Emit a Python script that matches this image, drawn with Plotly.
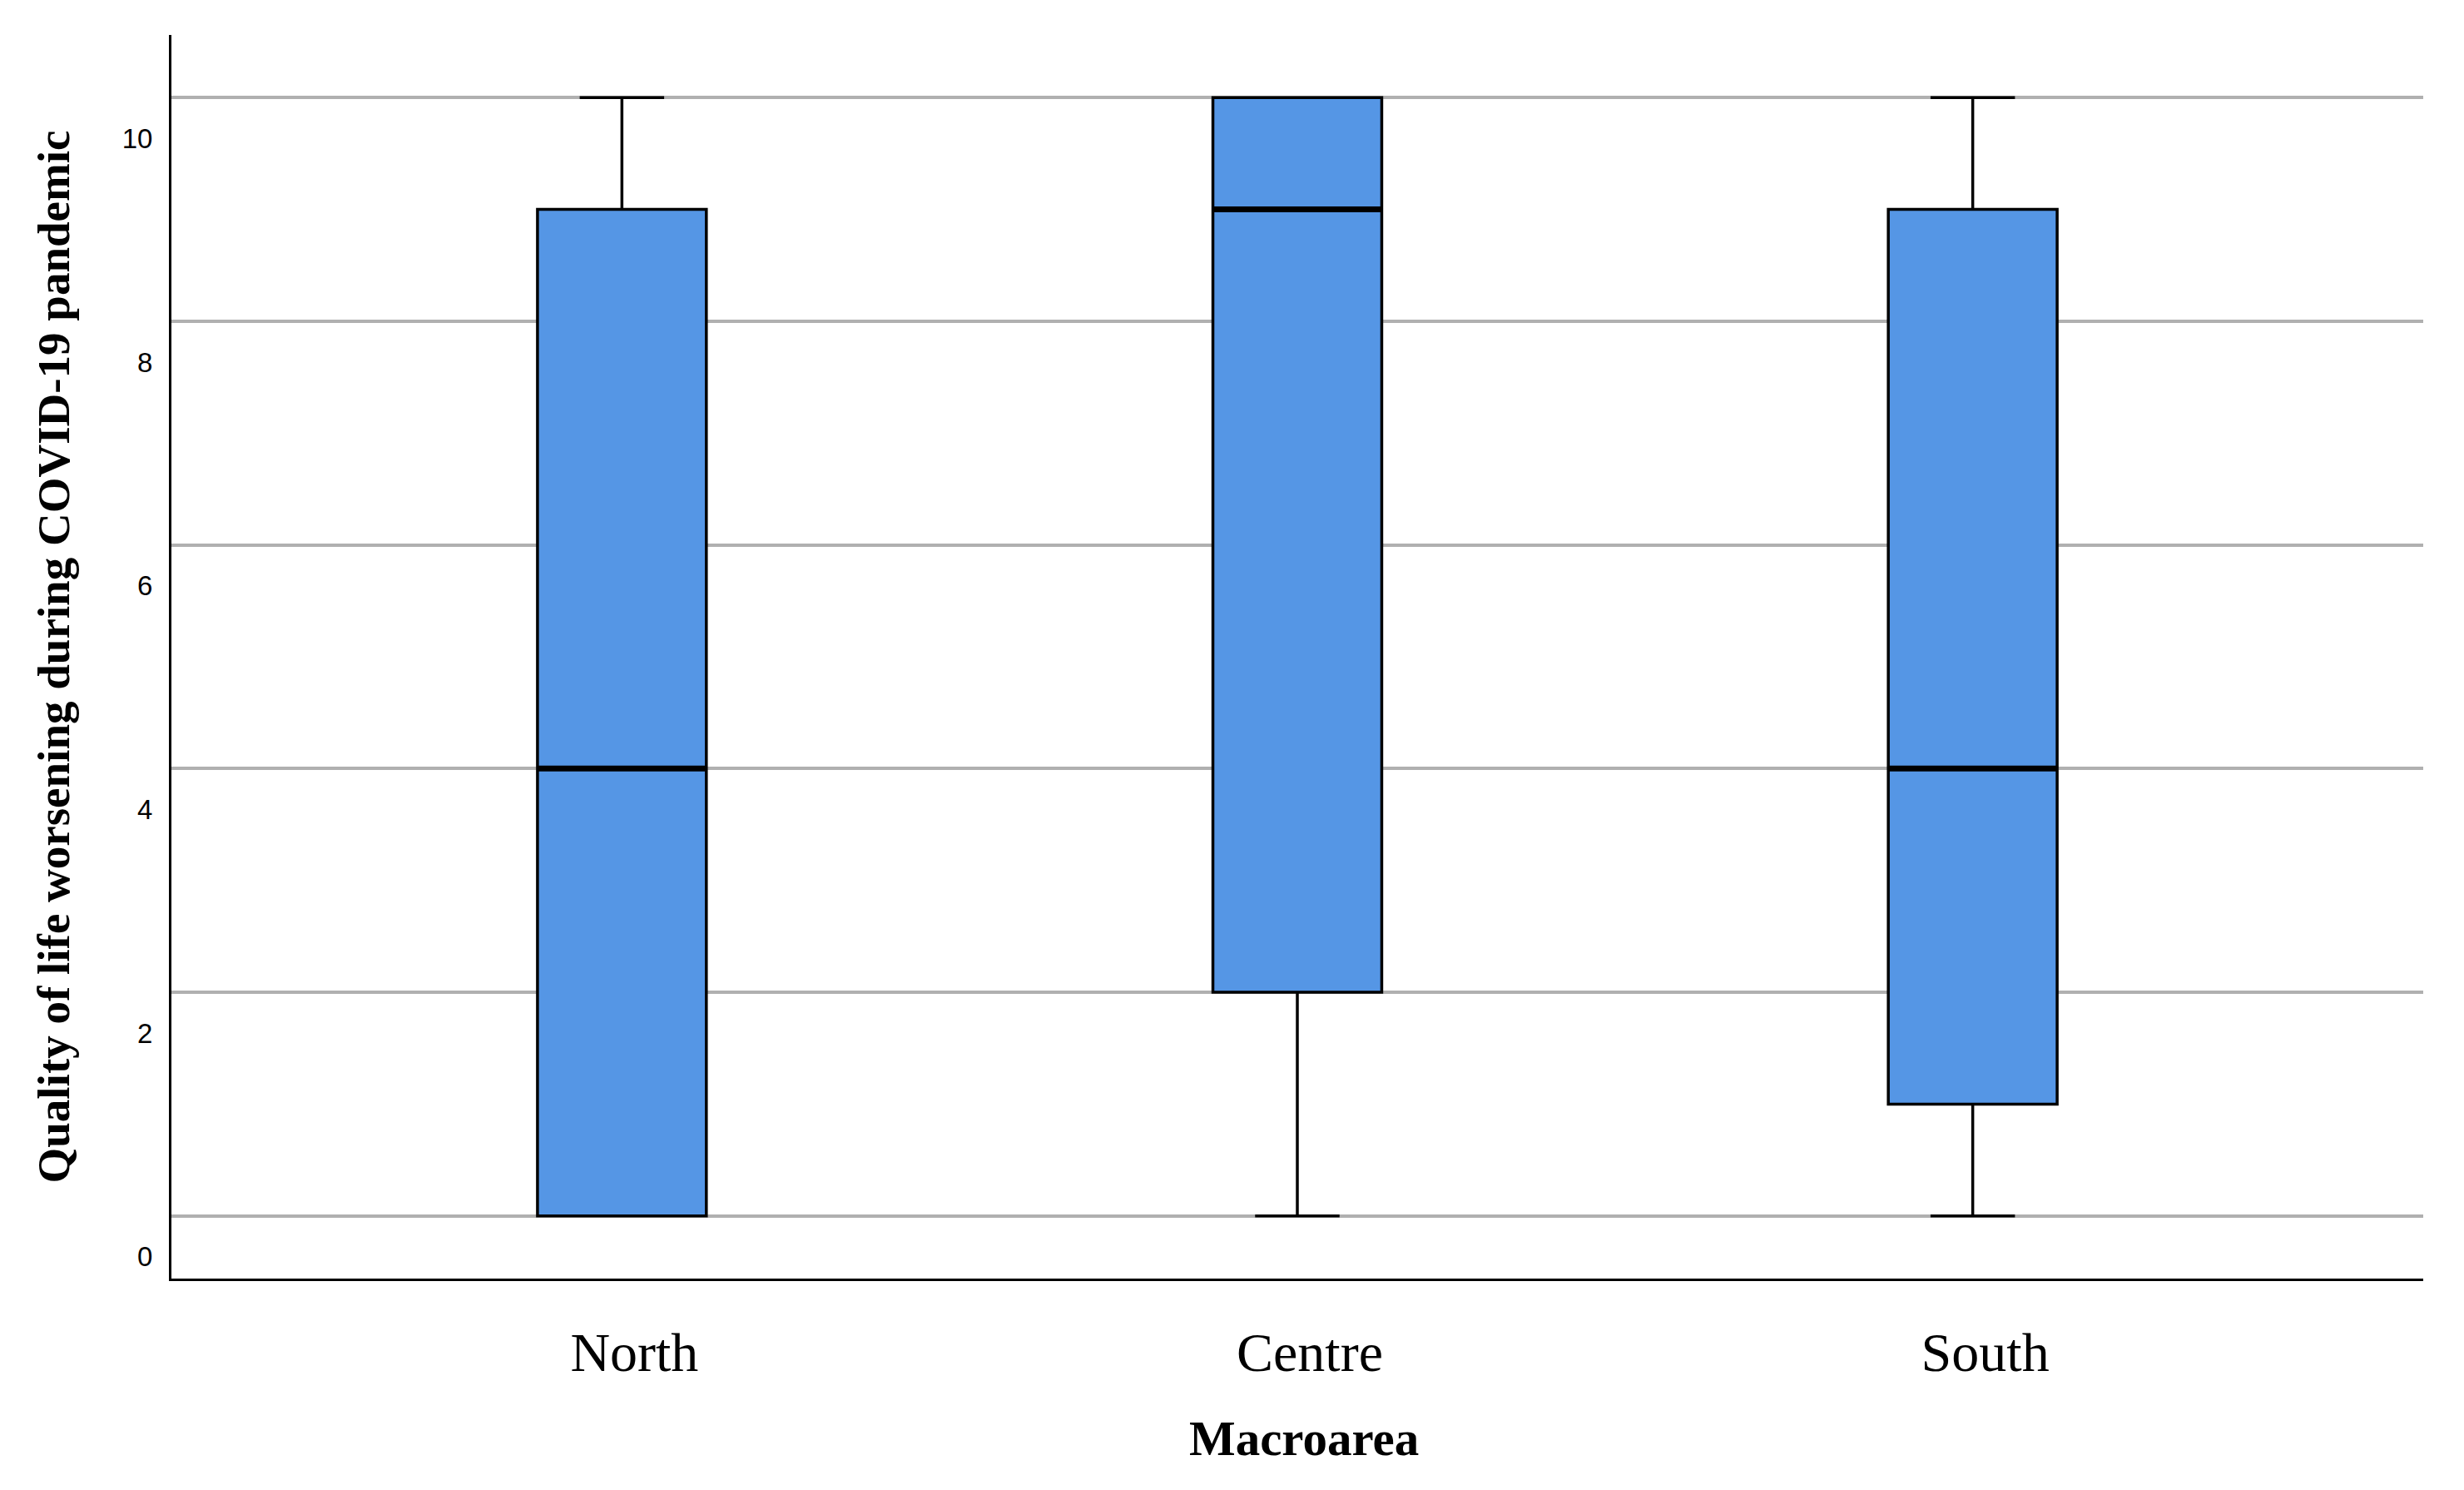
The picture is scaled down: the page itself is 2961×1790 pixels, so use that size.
import plotly.graph_objects as go

categories = ["North", "Centre", "South"]
positions = [0, 1, 2]
lower_whisker = [0, 0, 0]
q1_vals = [0, 2, 1]
median_vals = [4, 9, 4]
q3_vals = [9, 10, 9]
upper_whisker = [10, 10, 10]
y_ticks = [0, 2, 4, 6, 8, 10]

box_width = 0.25
fill = "#5596E5"

fig = go.Figure()
fig.add_trace(go.Box(
    x=positions, q1=q1_vals, median=median_vals, q3=q3_vals,
    lowerfence=lower_whisker, upperfence=upper_whisker,
    width=box_width, whiskerwidth=0.5,
    fillcolor=fill, line=dict(color="black", width=3.5),
    boxpoints=False, showlegend=False, hoverinfo="skip",
))
# thicker median lines
for p, m in zip(positions, median_vals):
    fig.add_trace(go.Scatter(
        x=[p - box_width / 2, p + box_width / 2], y=[m, m],
        mode="lines", line=dict(color="black", width=7),
        showlegend=False, hoverinfo="skip",
    ))

# page body has an 8px default margin; compensate so the plot lands where the reference has it
fig.update_layout(
    width=2961, height=1790,
    paper_bgcolor="white", plot_bgcolor="white",
    margin=dict(l=198, r=57, t=34, b=262),
    xaxis=dict(
        range=[-0.667, 2.667], tickvals=positions, ticktext=categories,
        showgrid=False, zeroline=False, automargin=False,
        showline=True, linecolor="black", linewidth=3,
        ticks="", ticklabelstandoff=29, ticklabelshift=15,
        tickfont=dict(family="Liberation Serif", size=66, color="black"),
    ),
    yaxis=dict(
        range=[-0.56, 10.56], tickvals=y_ticks,
        showgrid=True, gridcolor="#B0B0B0", gridwidth=3.5,
        zeroline=False, showline=True, linecolor="black", linewidth=3,
        automargin=False,
        ticks="", ticklabelshift=49, ticklabelstandoff=13,
        tickfont=dict(family="Liberation Sans", size=33, color="black"),
        title=dict(text="<b>Quality of life worsening during COVID-19 pandemic</b>",
                   standoff=46,
                   font=dict(family="Liberation Serif", size=55, color="black")),
    ),
    annotations=[dict(
        text="<b>Macroarea</b>", xref="paper", yref="paper",
        x=0.503, y=-0.1285, xanchor="center", yanchor="middle",
        showarrow=False,
        font=dict(family="Liberation Serif", size=59, color="black"),
    )],
)

fig.write_html("out.html")
